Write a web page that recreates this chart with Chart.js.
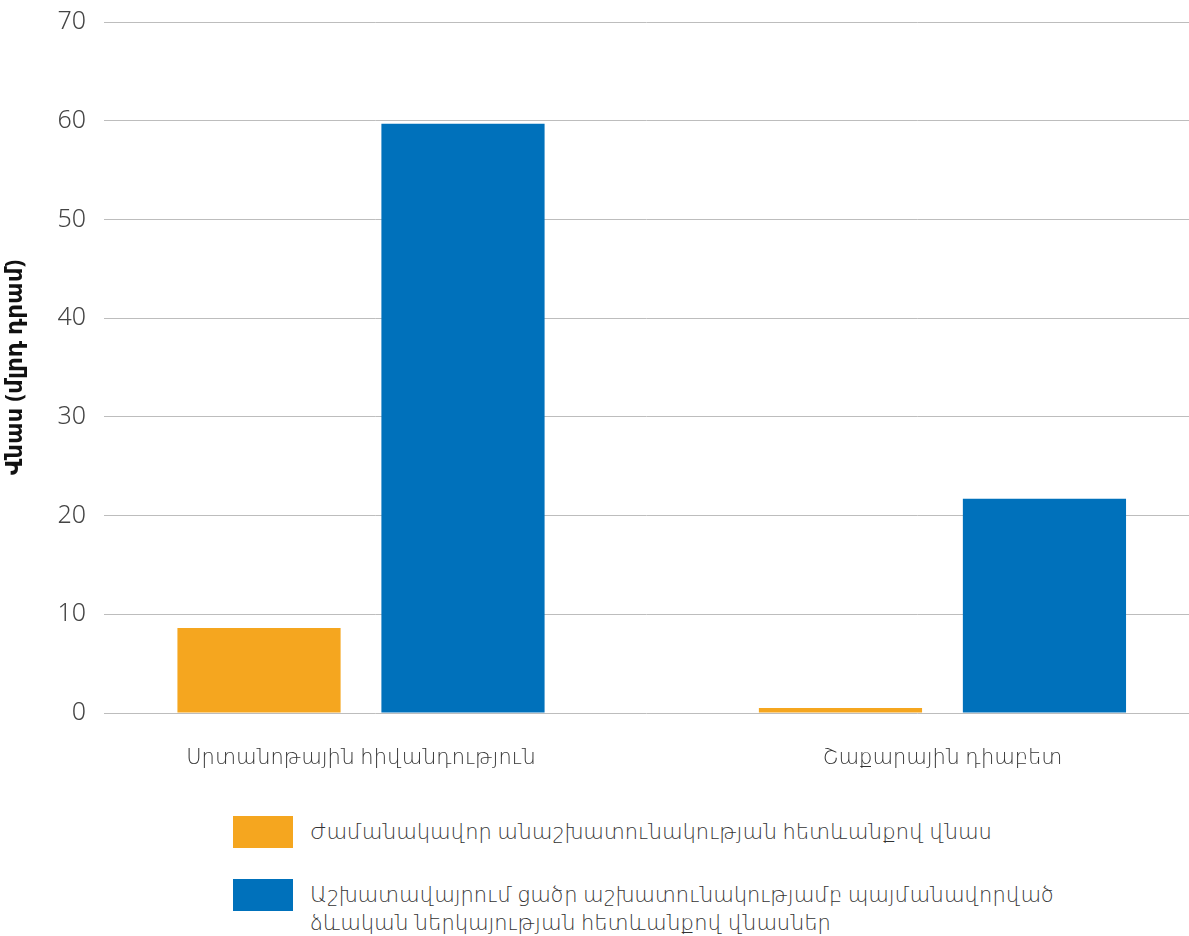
<!DOCTYPE html>
<html>
<head>
<meta charset="utf-8">
<script src="https://cdn.jsdelivr.net/npm/chart.js@4/dist/chart.umd.min.js"></script>
<style>
    html, body { margin: 0; padding: 0; background: #fff; overflow: hidden; }
    #wrap { position: relative; width: 1189px; height: 936px; }
    #chart { position: absolute; left: 0; top: 0; }
    #legend { position: absolute; left: 233px; top: 816px; font-family: 'Noto Sans', 'DejaVu Sans', sans-serif; font-weight: 300; font-size: 21px; color: #333; }
    .item { display: flex; align-items: flex-start; margin-bottom: 31px; }
    .box { width: 60px; height: 32px; flex: none; margin-right: 17px; }
    .txt { line-height: 28px; width: 760px; margin-top: 1px; }
</style>
</head>
<body>
<div id="wrap">
    <canvas id="chart" width="1189" height="790"></canvas>
    <div id="legend"></div>
</div>
<script>
    var categories = ['Սրտանոթային հիվանդություն', 'Շաքարային դիաբետ'];
    var seriesNames = [
        'Ժամանակավոր անաշխատունակության հետևանքով վնաս',
        'Աշխատավայրում ցածր աշխատունակությամբ պայմանավորված ձևական ներկայության հետևանքով վնասներ'
    ];
    var absenteeism = [8.6, 0.5];
    var presenteeism = [59.7, 21.7];
    var yTicks = [0, 10, 20, 30, 40, 50, 60, 70];
    var yTitle = 'Վնաս (մլրդ դրամ)';

    var palette = ['#f5a61f', '#0071bb'];
    var font = "'Noto Sans', 'DejaVu Sans', sans-serif";

    var points = (values) => values.map(function (v, i) { return { x: i, y: v }; });

    var ctx = document.getElementById('chart').getContext('2d');
    new Chart(ctx, {
        type: 'bar',
        data: {
            datasets: [{
                label: seriesNames[0],
                data: points(absenteeism),
                backgroundColor: palette[0]
            }, {
                label: seriesNames[1],
                data: points(presenteeism),
                backgroundColor: palette[1]
            }]
        },
        options: {
            responsive: false,
            animation: false,
            layout: { padding: { top: 22, left: 0, right: 0, bottom: 0 } },
            categoryPercentage: 0.7016,
            barPercentage: 0.8,
            plugins: {
                legend: { display: false },
                tooltip: { enabled: false }
            },
            scales: {
                x: {
                    type: 'linear',
                    bounds: 'data',
                    offset: false,
                    min: -0.442,
                    max: 1.424,
                    border: { display: false },
                    grid: { display: false, drawTicks: false },
                    afterFit: (scale) => { scale.height = 77; },
                    afterBuildTicks: (scale) => {
                        scale.ticks = categories.map(function (c, i) { return { value: i }; });
                    },
                    ticks: {
                        padding: 32,
                        maxRotation: 0,
                        color: '#333',
                        font: { family: font, size: 21, weight: 300 },
                        callback: (value) => categories[value]
                    }
                },
                y: {
                    min: 0,
                    max: 70,
                    border: { display: false },
                    grid: { color: '#bdbdbd', lineWidth: 1, drawTicks: false },
                    afterFit: (scale) => {
                        scale.width = 104;
                        scale.paddingTop = 0;
                        scale.paddingBottom = 0;
                    },
                    afterBuildTicks: (scale) => {
                        scale.ticks = yTicks.map(function (v) { return { value: v }; });
                    },
                    ticks: {
                        padding: 18,
                        color: '#444',
                        font: { family: font, size: 25, weight: 300 }
                    },
                    title: {
                        display: true,
                        text: yTitle,
                        color: '#111',
                        padding: { top: 2, bottom: 0 },
                        font: { family: font, size: 23, weight: 'bold' }
                    }
                }
            }
        }
    });

    var legend = document.getElementById('legend');
    seriesNames.forEach(function (name, index) {
        var item = document.createElement('div');
        item.className = 'item';
        item.innerHTML = '<div class="box" style="background:' + palette[index] + '"></div><div class="txt">' + name + '</div>';
        legend.appendChild(item);
    });
</script>
</body>
</html>
